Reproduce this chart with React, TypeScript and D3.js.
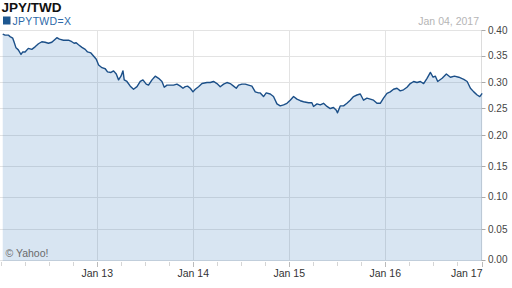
import React from "react";
import * as d3 from "d3";

const TITLE = "JPY/TWD";
const SYMBOL = "JPYTWD=X";
const DATE_LABEL = "Jan 04, 2017";
const CREDIT = "© Yahoo!";

// decimal years
const years = [
  2012.018, 2012.042, 2012.076, 2012.094, 2012.122, 2012.135, 2012.156, 2012.18, 2012.208, 2012.226,
  2012.25, 2012.284, 2012.32, 2012.354, 2012.389, 2012.424, 2012.458, 2012.493, 2012.528, 2012.563,
  2012.58, 2012.607, 2012.649, 2012.701, 2012.736, 2012.76, 2012.781, 2012.805, 2012.841, 2012.875,
  2012.899, 2012.934, 2012.961, 2012.99, 2013.014, 2013.049, 2013.083, 2013.107, 2013.143, 2013.17,
  2013.198, 2013.222, 2013.247, 2013.268, 2013.281, 2013.309, 2013.344, 2013.378, 2013.414, 2013.448,
  2013.476, 2013.51, 2013.534, 2013.57, 2013.604, 2013.639, 2013.674, 2013.698, 2013.726, 2013.76,
  2013.795, 2013.83, 2013.865, 2013.893, 2013.917, 2013.941, 2013.969, 2013.997, 2014.021, 2014.055,
  2014.091, 2014.143, 2014.177, 2014.211, 2014.247, 2014.281, 2014.316, 2014.351, 2014.385, 2014.42,
  2014.448, 2014.472, 2014.507, 2014.542, 2014.576, 2014.611, 2014.646, 2014.68, 2014.698, 2014.732,
  2014.76, 2014.802, 2014.836, 2014.872, 2014.906, 2014.941, 2014.976, 2015.01, 2015.045, 2015.08,
  2015.115, 2015.149, 2015.201, 2015.236, 2015.253, 2015.289, 2015.323, 2015.357, 2015.393, 2015.427,
  2015.461, 2015.49, 2015.503, 2015.531, 2015.566, 2015.601, 2015.635, 2015.67, 2015.705, 2015.74,
  2015.774, 2015.809, 2015.844, 2015.878, 2015.914, 2015.948, 2015.982, 2016.018, 2016.052, 2016.086,
  2016.122, 2016.156, 2016.19, 2016.226, 2016.26, 2016.295, 2016.33, 2016.365, 2016.399, 2016.434,
  2016.469, 2016.497, 2016.521, 2016.545, 2016.591, 2016.635, 2016.677, 2016.719, 2016.764, 2016.816,
  2016.851, 2016.885, 2016.92, 2016.955, 2016.982, 2017.007,
];

const rates = [
  0.392, 0.39, 0.39, 0.387, 0.384, 0.377, 0.365, 0.361, 0.352, 0.357,
  0.357, 0.364, 0.362, 0.367, 0.373, 0.377, 0.376, 0.374, 0.376, 0.382,
  0.385, 0.382, 0.38, 0.38, 0.377, 0.374, 0.375, 0.371, 0.366, 0.362,
  0.357, 0.355, 0.349, 0.343, 0.332, 0.327, 0.325, 0.319, 0.318, 0.321,
  0.315, 0.304, 0.311, 0.321, 0.304, 0.301, 0.292, 0.286, 0.291, 0.301,
  0.304, 0.296, 0.294, 0.304, 0.311, 0.307, 0.301, 0.29, 0.294, 0.294,
  0.294, 0.296, 0.292, 0.288, 0.291, 0.292, 0.288, 0.281, 0.286, 0.291,
  0.297, 0.299, 0.299, 0.301, 0.297, 0.291, 0.296, 0.299, 0.297, 0.292,
  0.288, 0.294, 0.296, 0.296, 0.294, 0.292, 0.281, 0.279, 0.279, 0.272,
  0.279, 0.277, 0.272, 0.258, 0.254, 0.256, 0.259, 0.265, 0.272, 0.267,
  0.264, 0.262, 0.26, 0.26, 0.253, 0.258, 0.256, 0.259, 0.253, 0.249,
  0.251, 0.246, 0.241, 0.254, 0.254, 0.259, 0.265, 0.272, 0.275, 0.277,
  0.265, 0.269, 0.267, 0.265, 0.259, 0.259, 0.269, 0.278, 0.281, 0.286,
  0.288, 0.283, 0.285, 0.29, 0.297, 0.301, 0.299, 0.301, 0.297, 0.307,
  0.318, 0.309, 0.311, 0.301, 0.307, 0.315, 0.309, 0.311, 0.309, 0.305,
  0.301, 0.288, 0.281, 0.275, 0.272, 0.278,
];

const yTicks = [0, 0.05, 0.1, 0.15, 0.2, 0.25, 0.3, 0.35, 0.4];
const xTickYears = [2013, 2014, 2015, 2016, 2017];
const xTickLabels = ["Jan 13", "Jan 14", "Jan 15", "Jan 16", "Jan 17"];

function yearToDate(y: number): Date {
  const yr = Math.floor(y);
  const start = new Date(yr, 0, 1).getTime();
  const end = new Date(yr + 1, 0, 1).getTime();
  return new Date(start + (y - yr) * (end - start));
}

export default function App() {
  const W = 512;
  const H = 288;
  const left = 1;
  const right = 481.5;
  const top = 30;
  const bottom = 261;

  const x = d3
    .scaleTime()
    .domain([new Date(2012, 0, 1), new Date(2017, 0, 1)])
    .range([left, right]);
  // the reference's value axis is slightly non-uniform; piecewise mapping
  const y = d3
    .scaleLinear()
    .domain(yTicks)
    .range([259.5, 229, 196.5, 166, 135, 108, 82, 55.5, 30]);

  const data = years.map((yy, i) => ({ d: yearToDate(yy), v: rates[i] }));

  const area = d3
    .area<{ d: Date; v: number }>()
    .x((p) => x(p.d))
    .y0(bottom)
    .y1((p) => y(p.v));
  const line = d3
    .line<{ d: Date; v: number }>()
    .x((p) => x(p.d))
    .y((p) => y(p.v));

  const quarters = d3.timeMonth.every(3)!.range(new Date(2012, 0, 1), new Date(2017, 0, 2));
  const font = "Arial, 'Liberation Sans', Helvetica, sans-serif";

  return (
    <svg
      width={W}
      height={H}
      style={{ position: "absolute", left: 0, top: 0, background: "#fff" }}
      fontFamily={font}
    >
      {/* horizontal grid */}
      {yTicks.map((t) => (
        <line
          key={"h" + t}
          x1={0}
          x2={right}
          y1={Math.round(y(t)) + 0.5}
          y2={Math.round(y(t)) + 0.5}
          stroke="#e3e3e3"
          strokeWidth={1}
        />
      ))}
      {/* vertical grid */}
      {xTickYears.slice(0, 4).map((yr) => {
        const xx = Math.round(x(new Date(yr, 0, 1))) + 0.5;
        return <line key={"v" + yr} x1={xx} x2={xx} y1={top} y2={bottom} stroke="#e3e3e3" />;
      })}
      <line x1={right} x2={right} y1={top} y2={bottom} stroke="#dcdcdc" />

      {/* area */}
      <path d={area(data) ?? ""} fill="#3a7dbd" fillOpacity={0.2} />
      <path d={line(data) ?? ""} fill="none" stroke="#1b4f88" strokeWidth={1.4} strokeLinejoin="round" />

      {/* y ticks and labels */}
      {yTicks.map((t) => (
        <g key={"yl" + t}>
          <line x1={right} x2={right + 4} y1={Math.round(y(t)) + 0.5} y2={Math.round(y(t)) + 0.5} stroke="#aaa" />
          <text x={488} y={y(t)} dy="0.35em" fontSize={10} fill="#444">
            {t.toFixed(2)}
          </text>
        </g>
      ))}

      {/* x minor ticks */}
      {quarters.map((q) => {
        const xx = Math.round(x(q)) + 0.5;
        return <line key={"q" + q.getTime()} x1={xx} x2={xx} y1={bottom + 1} y2={bottom + 5} stroke="#d5d5d5" />;
      })}
      {xTickYears.map((yr, i) => {
        const xx = x(new Date(yr, 0, 1));
        const isLast = i === xTickYears.length - 1;
        return (
          <g key={"xl" + yr}>
            <line x1={Math.round(xx) + 0.5} x2={Math.round(xx) + 0.5} y1={bottom + 1} y2={bottom + 6} stroke="#bbb" />
            <text
              x={isLast ? xx + 1 : xx}
              y={277}
              textAnchor={isLast ? "end" : "middle"}
              fontSize={10.5}
              fill="#333"
            >
              {xTickLabels[i]}
            </text>
          </g>
        );
      })}

      {/* header */}
      <text x={1.5} y={12} fontSize={13.5} fontWeight="bold" fill="#111">
        {TITLE}
      </text>
      <rect x={3} y={16.5} width={7.5} height={8} fill="#1d5790" />
      <text x={12.5} y={24.5} fontSize={10.5} fill="#2d69a8" letterSpacing={0.3}>
        {SYMBOL}
      </text>
      <text x={479} y={24.5} fontSize={10.5} fill="#b5b5b5" textAnchor="end">
        {DATE_LABEL}
      </text>
      <text x={5.5} y={257} fontSize={10.5} fill="#6a6a6a">
        {CREDIT}
      </text>
    </svg>
  );
}
